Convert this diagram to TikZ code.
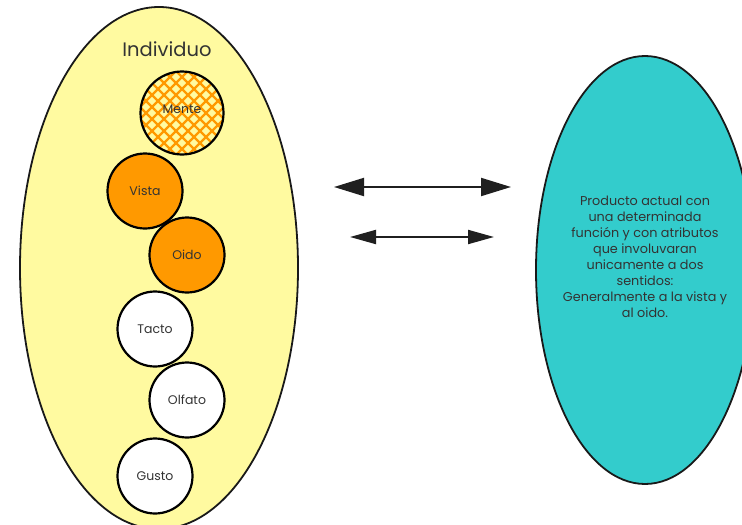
\documentclass[tikz,border=0pt]{standalone}
\usepackage{fontspec}
\setmainfont{Poppins}
\usetikzlibrary{shapes.geometric,arrows.meta}
\definecolor{ellyellow}{RGB}{255,250,160}
\definecolor{senseorange}{RGB}{255,153,0}
\definecolor{prodteal}{RGB}{51,204,204}
\definecolor{txtgray}{RGB}{51,51,51}
\tikzset{
  sense/.style={circle, draw=black, line width=2.2pt, minimum size=75pt, inner sep=0pt,
    font=\fontsize{12.5}{14}\selectfont, text=txtgray},
  bigell/.style={ellipse, draw=black!90, line width=1.8pt, inner sep=0pt},
  dblarrow/.style={draw=black!88, line width=2pt}
}
\begin{document}
\begin{tikzpicture}[x=1pt,y=-1pt]
\useasboundingbox (0,0) rectangle (742,525);
% left ellipse
\node[bigell, fill=ellyellow, minimum width=278pt, minimum height=522pt] (indiv) at (159,268) {};
\node[text=txtgray, font=\fontsize{19.5}{22}\selectfont] (indivlabel) at (167,49) {Individuo};
% right ellipse
\node[bigell, fill=prodteal, minimum width=218pt, minimum height=428pt] (prod) at (645,270) {};
\node[align=center, text=txtgray, font=\fontsize{12.8}{16}\selectfont] (prodtext) at (645,257)
 {Producto actual con\\una determinada\\función y con atributos\\que involuvaran\\unicamente a dos\\sentidos:\\Generalmente a la vista y\\al oido.};
% Mente with crosshatch
\begin{scope}
  \fill[ellyellow] (182,113) circle (41.5pt);
  \clip (182,113) circle (41.5pt);
  \foreach \k in {-132,-120,...,132} {
    \draw[senseorange, line width=2.4pt] (182+\k-60,113-60) -- (182+\k+60,113+60);
    \draw[senseorange, line width=2.4pt] (182+\k-60,113+60) -- (182+\k+60,113-60);
  }
\end{scope}
\node[sense, minimum size=83pt] (mente) at (182,113) {};
\node[text=txtgray, font=\fontsize{12.5}{14}\selectfont] (mentetext) at (182,109) {Mente};
% other senses
\node[sense, fill=senseorange] (vista) at (145,191) {Vista};
\node[sense, fill=senseorange] (oido) at (187,255) {Oido};
\node[sense, fill=white] (tacto) at (155,329) {Tacto};
\node[sense, fill=white] (olfato) at (187,400) {Olfato};
\node[sense, fill=white] (gusto) at (155,476) {Gusto};
% arrows
\coordinate (a1l) at (334,187);
\coordinate (a1r) at (511,187);
\coordinate (a2l) at (350,237);
\coordinate (a2r) at (494,237);
\draw[dblarrow, {Triangle[length=30pt,width=18pt]}-{Triangle[length=30pt,width=18pt]}] (a1l) -- (a1r);
\draw[dblarrow, {Triangle[length=26pt,width=14pt]}-{Triangle[length=26pt,width=14pt]}] (a2l) -- (a2r);
\end{tikzpicture}
\end{document}
